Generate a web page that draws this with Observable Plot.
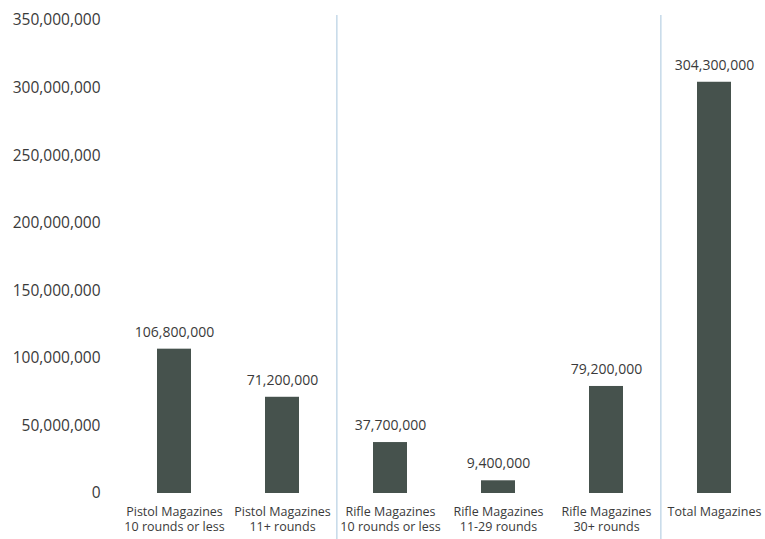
<!DOCTYPE html>
<html>
<head>
<meta charset="utf-8">
<script src="https://cdn.jsdelivr.net/npm/d3@7"></script>
<script src="https://cdn.jsdelivr.net/npm/@observablehq/plot@0.6"></script>
<style>
  html, body { margin: 0; padding: 0; background: #fff; }
  #chart svg { display: block; }
</style>
</head>
<body>
<div id="chart"></div>
<script>
const categories = [
  "Pistol Magazines\n10 rounds or less",
  "Pistol Magazines\n11+ rounds",
  "Rifle Magazines\n10 rounds or less",
  "Rifle Magazines\n11-29 rounds",
  "Rifle Magazines\n30+ rounds",
  "Total Magazines"
];
const values = [106800000, 71200000, 37700000, 9400000, 79200000, 304300000];
const yTicks = [0, 50000000, 100000000, 150000000, 200000000, 250000000, 300000000, 350000000];
const separatorsAfter = [categories[1], categories[4]];

const data = categories.map((c, i) => ({category: c, value: values[i]}));
const fmt = d3.format(",");
const step = 108.8;

const chart = Plot.plot({
  width: 765,
  height: 539,
  marginLeft: 118,
  marginRight: 0,
  marginTop: 20,
  marginBottom: 46,
  style: {fontFamily: "'Open Sans', sans-serif", color: "#3a3a3a", background: "#fff"},
  x: {domain: categories, range: [117.6, 117.6 + 6 * step], paddingInner: 0.6875, paddingOuter: 0.34375, label: null},
  y: {domain: [0, 350000000], label: null},
  marks: [
    Plot.ruleX(separatorsAfter, {x: d => d, dx: step / 2, stroke: "#a9c6dd", strokeWidth: 1, insetTop: -5, insetBottom: -46}),
    Plot.barY(data, {x: "category", y: "value", fill: "#46524d"}),
    Plot.text(data, {x: "category", y: "value", text: d => fmt(d.value), dy: -17, fontSize: 14, fill: "#3a3a3a"}),
    Plot.axisY({ticks: yTicks, tickFormat: fmt, tickSize: 0, tickPadding: 18, fontSize: 15.5, label: null, fill: "#3a3a3a"}),
    Plot.axisX({tickSize: 0, tickPadding: 11, fontSize: 12.5, label: null, lineHeight: 1.25, fill: "#3a3a3a"})
  ]
});
document.getElementById("chart").appendChild(chart);
</script>
</body>
</html>
